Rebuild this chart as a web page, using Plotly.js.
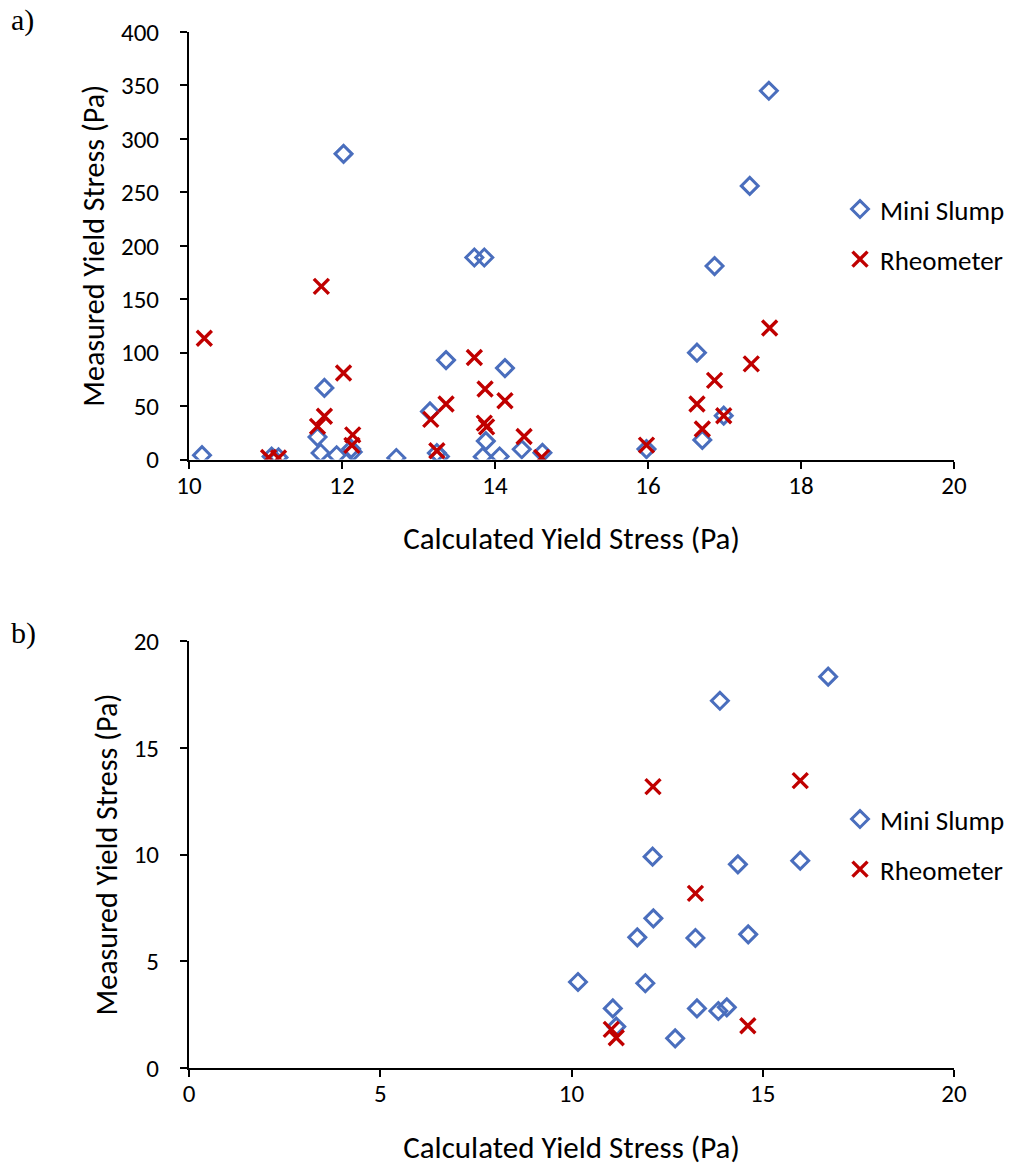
<!DOCTYPE html>
<html>
<head>
<meta charset="utf-8">
<script src="https://cdn.plot.ly/plotly-3.0.1.min.js"></script>
<style>html,body{margin:0;padding:0;background:#fff;}#chart{width:1011px;height:1166px;}</style>
</head>
<body>
<div id="chart"></div>
<script>
// Mini Slump: calculated vs measured yield stress (Pa)
const slumpCalc = [10.17, 11.08, 11.17, 11.68, 11.72, 11.77, 11.93, 12.02, 12.12, 12.14, 12.71, 13.15, 13.24, 13.28, 13.36, 13.73, 13.86, 13.84, 13.88, 14.06, 14.13, 14.35, 14.62, 15.98, 16.64, 16.71, 16.87, 16.99, 17.33, 17.58];
const slumpMeas = [4.03, 2.79, 1.94, 21, 6.12, 67, 3.97, 286, 9.90, 7.01, 1.39, 45, 6.09, 2.79, 93, 189, 189, 2.67, 17.20, 2.84, 85.5, 9.54, 6.26, 9.71, 100, 18.33, 181, 41, 256, 345];
// Rheometer: calculated vs measured yield stress (Pa)
const rheoCalc = [10.20, 11.04, 11.17, 11.68, 11.73, 11.77, 12.02, 12.13, 12.14, 13.16, 13.24, 13.36, 13.73, 13.87, 13.86, 13.89, 14.13, 14.38, 14.61, 15.98, 16.64, 16.71, 16.87, 16.99, 17.35, 17.59];
const rheoMeas = [113.5, 1.81, 1.42, 31, 162, 40.5, 81, 13.18, 23, 37.5, 8.18, 52, 95.5, 66, 34, 30.5, 55, 21.5, 1.98, 13.46, 52, 28.5, 74, 41, 89.5, 123];

const seriesNames = ['Mini Slump', 'Rheometer'];
const panelLabels = ['a)', 'b)'];
const xTitle = 'Calculated Yield Stress (Pa)';
const yTitle = 'Measured Yield Stress (Pa)';

const FONT = 'Carlito, Calibri, Lato, sans-serif';
const blue = '#4A6EBD';
const red = '#C00000';

function slumpTrace(xa, ya, lg) {
  return {x: slumpCalc, y: slumpMeas, xaxis: xa, yaxis: ya, legend: lg, name: seriesNames[0],
    type: 'scatter', mode: 'markers', legendgroup: lg + 's', cliponaxis: true,
    marker: {symbol: 'diamond-open', size: 13, color: blue, line: {color: blue, width: 3}}};
}
function rheoTrace(xa, ya, lg) {
  return {x: rheoCalc, y: rheoMeas, xaxis: xa, yaxis: ya, legend: lg, name: seriesNames[1],
    type: 'scatter', mode: 'markers', legendgroup: lg + 'r', cliponaxis: true,
    marker: {symbol: 'x-thin-open', size: 15, color: red, line: {color: red, width: 3.4}}};
}

const data = [
  slumpTrace('x', 'y', 'legend'), rheoTrace('x', 'y', 'legend'),
  slumpTrace('x2', 'y2', 'legend2'), rheoTrace('x2', 'y2', 'legend2')
];

const W = 1011, H = 1166;
function xBase() {
  return {showline: true, linecolor: '#000', linewidth: 2, ticks: 'outside', ticklen: 7, tickwidth: 2,
    tickcolor: '#000', showgrid: false, zeroline: false, fixedrange: true, ticklabelstandoff: -5,
    tickfont: {family: FONT, size: 25, color: '#000'},
    title: {text: xTitle, standoff: 28, font: {family: FONT, size: 31, color: '#000'}}};
}
function yBase() {
  return {showline: true, linecolor: '#000', linewidth: 2, ticks: 'outside', ticklen: 7, tickwidth: 2,
    tickcolor: '#000', showgrid: false, zeroline: false, fixedrange: true, ticklabelstandoff: 16,
    tickfont: {family: FONT, size: 25, color: '#000'},
    title: {text: yTitle, standoff: 7, font: {family: FONT, size: 30, color: '#000'}}};
}
const xa = Object.assign(xBase(), {domain: [189 / W, 954 / W], range: [10, 20], dtick: 2, tick0: 0, anchor: 'y'});
const ya = Object.assign(yBase(), {domain: [1 - 459.5 / H, 1 - 32 / H], range: [0, 400], dtick: 50, anchor: 'x'});
const xb = Object.assign(xBase(), {domain: [189 / W, 954 / W], range: [0, 20], dtick: 5, tick0: 0, anchor: 'y2'});
const yb = Object.assign(yBase(), {domain: [1 - 1068 / H, 1 - 641 / H], range: [0, 20], dtick: 5, anchor: 'x2'});

function legendBox(yTop) {
  return {x: 840 / W, y: 1 - yTop / H, xanchor: 'left', yanchor: 'top', bgcolor: 'rgba(0,0,0,0)',
    font: {family: FONT, size: 27, color: '#000'}, traceorder: 'grouped', tracegroupgap: 12,
    itemwidth: 30};
}

const layout = {
  width: W, height: H, margin: {l: 0, r: 0, t: 0, b: 0},
  paper_bgcolor: '#fff', plot_bgcolor: '#fff', showlegend: true,
  xaxis: xa, yaxis: ya, xaxis2: xb, yaxis2: yb,
  legend: legendBox(185), legend2: legendBox(795),
  annotations: [
    {text: panelLabels[0], x: 9 / W, y: 1 - 20 / H, xref: 'paper', yref: 'paper', xanchor: 'left', yanchor: 'middle', showarrow: false,
      font: {family: 'Liberation Serif, DejaVu Serif, serif', size: 30, color: '#000'}},
    {text: panelLabels[1], x: 9 / W, y: 1 - 633 / H, xref: 'paper', yref: 'paper', xanchor: 'left', yanchor: 'middle', showarrow: false,
      font: {family: 'Liberation Serif, DejaVu Serif, serif', size: 30, color: '#000'}}
  ]
};

Plotly.newPlot('chart', data, layout, {displayModeBar: false, staticPlot: true});
</script>
</body>
</html>
